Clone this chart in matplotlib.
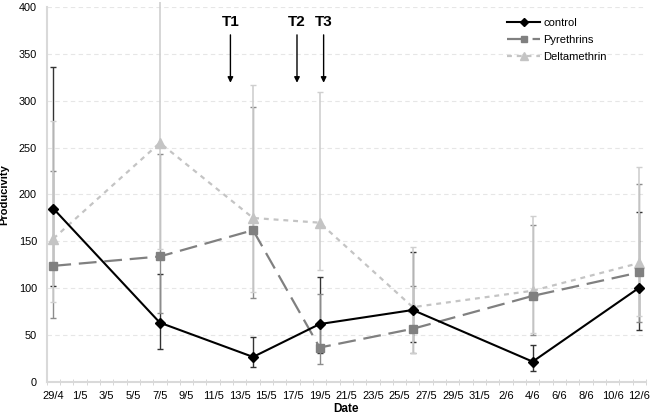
import matplotlib
matplotlib.use("Agg")
import matplotlib.pyplot as plt
import pandas as pd
import numpy as np

plt.rcParams['font.family'] = ['Liberation Sans', 'DejaVu Sans']

start = "2013-04-29"
end = "2013-06-12"
dates = ["2013-04-29", "2013-05-07", "2013-05-14", "2013-05-19", "2013-05-26", "2013-06-04", "2013-06-12"]

control = [185, 63.5, 27, 62, 77, 22, 100.7]
control_lo = [102.5, 35, 16, 31, 42.6, 12, 55.7]
control_hi = [336, 115, 48.6, 112, 139, 40, 181.7]

pyrethrins = [124, 134, 162, 37, 57, 92, 117]
pyr_lo = [69, 74, 90, 20, 31.5, 50, 64.5]
pyr_hi = [225, 243, 293.5, 94, 102.5, 167.5, 211]

deltamethrin = [153, 255, 175, 170, 80, 97.5, 127]
del_lo = [85, 141.6, 96.5, 120, 31, 52, 70.6]
del_hi = [278, 405, 317, 309, 144.5, 177, 229.5]

treatments = ["T1", "T2", "T3"]
treat_dates = ["2013-05-12", "2013-05-17", "2013-05-19"]

t0 = pd.Timestamp(start)
x = np.array([(pd.Timestamp(d) - t0).days for d in dates])
ndays = (pd.Timestamp(end) - t0).days
all_days = pd.date_range(start, end, freq="D")

fig = plt.figure(figsize=(6.53, 4.19), dpi=100)
ax = fig.add_axes([0.0715, 0.0876, 0.9175, 0.8964])

def eb(vals, lo, hi):
    v = np.array(vals); return np.vstack([v - np.array(lo), np.array(hi) - v])

ax.errorbar(x, control, yerr=eb(control, control_lo, control_hi), fmt='none',
            ecolor='#333333', elinewidth=1.0, capsize=2.5, capthick=1.0, zorder=3)
ax.errorbar(x, pyrethrins, yerr=eb(pyrethrins, pyr_lo, pyr_hi), fmt='none',
            ecolor='#8c8c8c', elinewidth=1.0, capsize=2.5, capthick=1.0, zorder=3.1)
e3 = ax.errorbar(x, deltamethrin, yerr=eb(deltamethrin, del_lo, del_hi), fmt='none',
            ecolor='#cfcfcf', elinewidth=1.2, capsize=2.5, capthick=1.0, zorder=3.2)
for c in e3.lines[2]:
    c.set_clip_on(False)

ax.plot(x, control, color='black', lw=1.5, marker='D', ms=5, label='control', zorder=5)
ax.plot(x, pyrethrins, color='#808080', lw=1.6, marker='s', ms=5.5, dashes=(8, 3.5),
        label='Pyrethrins', zorder=4.5)
ax.plot(x, deltamethrin, color='#c4c4c4', lw=1.6, marker='^', ms=7, dashes=(2.2, 2.2),
        label='Deltamethrin', zorder=4)

for lab, d in zip(treatments, treat_dates):
    tx = (pd.Timestamp(d) - t0).days + 0.3
    ax.annotate("", xy=(tx, 319), xytext=(tx, 370),
                arrowprops=dict(arrowstyle='-|>', color='black', lw=1.0,
                                mutation_scale=8, shrinkA=0, shrinkB=0))
    ax.text(tx, 384, lab, ha='center', va='center', fontsize=11, fontweight='bold')

ax.set_xlim(-0.5, ndays + 0.5)
ax.set_ylim(0, 400)
ax.set_yticks(np.arange(0, 401, 50))
ax.set_xticks(np.arange(0, ndays + 1, 2))
ax.set_xticklabels([f"{d.day}/{d.month}" for d in all_days[::2]])
ax.set_xticks(np.arange(-0.5, ndays + 1, 1), minor=True)
ax.tick_params(axis='x', which='major', length=0, labelsize=8, pad=6)
ax.tick_params(axis='x', which='minor', length=4, color='#d0d0d0', direction='inout')
ax.tick_params(axis='y', length=0, labelsize=7.8, pad=7)

ax.yaxis.grid(True, color='#e6e6e6', linestyle=(0, (4, 3)), lw=0.8)
ax.set_axisbelow(True)
for s in ['top', 'right']:
    ax.spines[s].set_visible(False)
for s in ['left', 'bottom']:
    ax.spines[s].set_color('#d9d9d9')
    ax.spines[s].set_linewidth(1.5)

ax.set_ylabel("Producivity", fontsize=8, fontweight='bold')
ax.yaxis.set_label_coords(-0.063, 0.5)
ax.set_xlabel("Date", fontsize=8.5, fontweight='bold', labelpad=2)

ax.legend(loc='upper right', bbox_to_anchor=(0.952, 0.997), frameon=False, fontsize=8,
          handlelength=3.0, labelspacing=0.65, handletextpad=0.3, markerscale=0.75)

fig.savefig("out.png", dpi=100)
